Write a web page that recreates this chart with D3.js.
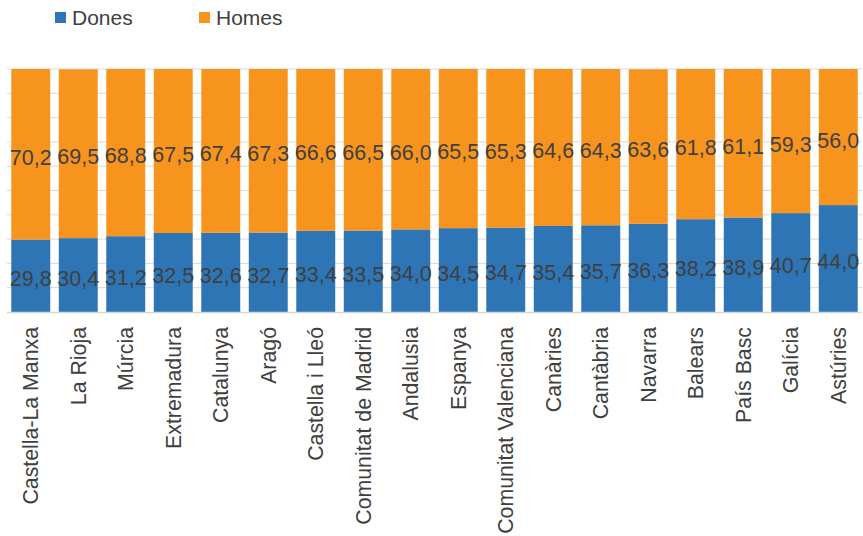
<!DOCTYPE html>
<html><head><meta charset="utf-8">
<script src="https://cdn.jsdelivr.net/npm/d3@7"></script>
<style>body{margin:0;background:#fff}svg{display:block}</style>
</head><body>
<svg id="c" width="863" height="536"></svg>
<script>
const categories = ["Castella-La Manxa","La Rioja","Múrcia","Extremadura","Catalunya","Aragó","Castella i Lleó","Comunitat de Madrid","Andalusia","Espanya","Comunitat Valenciana","Canàries","Cantàbria","Navarra","Balears","País Basc","Galícia","Astúries"];
const dones = [29.8,30.4,31.2,32.5,32.6,32.7,33.4,33.5,34.0,34.5,34.7,35.4,35.7,36.3,38.2,38.9,40.7,44.0];
const homes = [70.2,69.5,68.8,67.5,67.4,67.3,66.6,66.5,66.0,65.5,65.3,64.6,64.3,63.6,61.8,61.1,59.3,56.0];
const seriesNames = ["Dones","Homes"];
const colors = ["#2E75B6","#F7941D"];
const yTicks = [0,10,20,30,40,50,60,70,80,90,100];

const svg = d3.select("#c");
const font = "'Liberation Sans', Arial, sans-serif";
const txt = "#404040";
const x = d3.scaleBand().domain(categories).range([7,862]).paddingInner(0.18).paddingOuter(0.09);
const y = d3.scaleLinear().domain([0,100]).range([312,69]);

// gridlines
svg.append("g").selectAll("line").data(yTicks.filter(d=>d>0)).join("line")
  .attr("x1",7).attr("x2",862).attr("y1",d=>y(d)).attr("y2",d=>y(d))
  .attr("stroke","#d9d9d9").attr("stroke-width",1);

const data = categories.map((c,i)=>({cat:c, Dones:dones[i], Homes:homes[i]}));
const stack = d3.stack().keys(seriesNames)(data);

const g = svg.append("g");
stack.forEach((s,si)=>{
  g.append("g").selectAll("rect").data(s).join("rect")
    .attr("x",d=>x(d.data.cat)).attr("width",x.bandwidth())
    .attr("y",d=>y(d[1])).attr("height",d=>y(d[0])-y(d[1]))
    .attr("fill",colors[si]);
  g.append("g").selectAll("text").data(s).join("text")
    .attr("x",d=>x(d.data.cat)+x.bandwidth()/2)
    .attr("y",d=>(y(d[0])+y(d[1]))/2+3)
    .attr("dy","0.35em")
    .attr("text-anchor","middle")
    .attr("font-family",font).attr("font-size",21.5).attr("fill",txt)
    .text(d=>d3.format(".1f")(d[1]-d[0]).replace(".",","));
});

// baseline axis
svg.append("line").attr("x1",7).attr("x2",862).attr("y1",312.5).attr("y2",312.5)
  .attr("stroke","#d9d9d9").attr("stroke-width",1.5);

// x labels
const xAxis = d3.axisBottom(x).tickSize(0).tickPadding(0);
const ax = svg.append("g").attr("transform","translate(0,327)").call(xAxis);
ax.select(".domain").remove();
ax.selectAll("text")
  .attr("transform","rotate(-90)")
  .attr("x",0).attr("y",0).attr("dy","0.35em")
  .attr("text-anchor","end")
  .attr("font-family",font).attr("font-size",21.3).attr("fill",txt);
ax.selectAll(".tick").attr("transform",d=>`translate(${x(d)+x.bandwidth()/2},0)`);

// legend
const leg = svg.append("g");
const legX = [55,199];
seriesNames.forEach((n,i)=>{
  leg.append("rect").attr("x",legX[i]).attr("y",12).attr("width",11).attr("height",11).attr("fill",colors[i]);
  leg.append("text").attr("x",legX[i]+17).attr("y",18).attr("dy","0.35em")
    .attr("font-family",font).attr("font-size",21).attr("fill",txt).text(n);
});
</script>
</body></html>
